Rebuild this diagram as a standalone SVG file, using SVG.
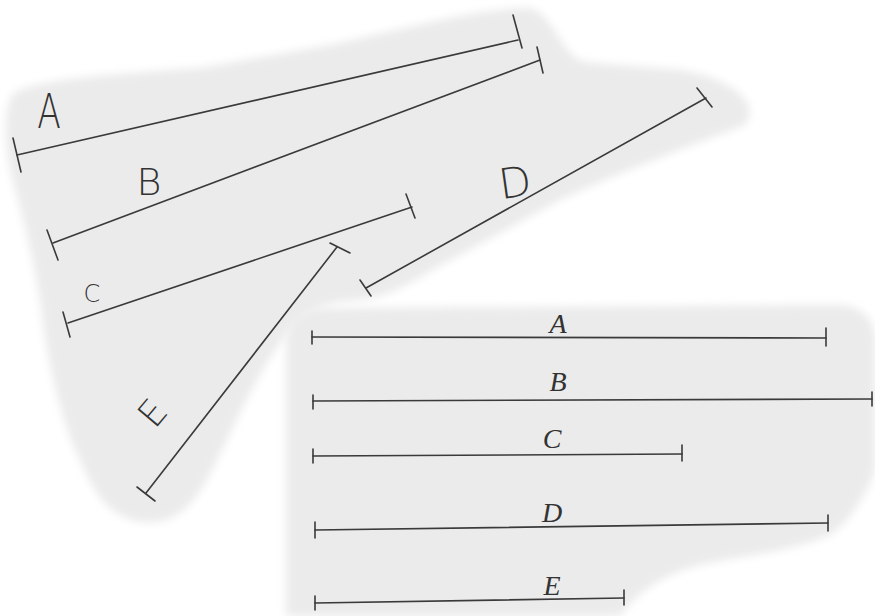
<svg xmlns="http://www.w3.org/2000/svg" width="875" height="616" viewBox="0 0 875 616">
<defs>
<filter id="soft" x="-10%" y="-10%" width="120%" height="120%"><feGaussianBlur stdDeviation="4"/></filter>
</defs>
<style>
.blob{fill:#ebebeb;filter:url(#soft)}
.seg line{stroke:#3a3a3a;stroke-width:1.6;stroke-linecap:round}
.lt{font-family:"DejaVu Sans","Liberation Sans",sans-serif;fill:#333;text-anchor:middle;font-weight:200}
.lb{font-family:"Liberation Serif",serif;font-style:italic;fill:#333;text-anchor:middle;font-size:28px}
</style>
<rect width="875" height="616" fill="#ffffff"/>
<g id="blob-top">
<path class="blob" d="M12,95 C30,80 100,75 200,68 L330,45 C420,25 480,8 530,8 C555,15 560,55 585,62 L680,70 C720,75 765,100 745,125 C700,142 620,172 560,200 L460,255 C420,275 400,295 360,300 C320,302 300,312 282,340 C252,382 228,440 212,470 C192,510 172,525 142,522 C110,518 95,495 80,460 C60,420 45,350 40,300 C30,240 18,200 10,170 C4,140 4,110 12,95 Z"/>
</g>
<g id="blob-bottom">
<path class="blob" d="M286,345 C286,322 298,310 320,308 L840,305 C862,306 875,320 875,340 L875,470 C865,500 845,525 830,535 C790,552 740,556 700,565 C660,575 635,595 620,616 L286,616 Z"/>
</g>
<g id="connectors" class="seg">
<g id="top-A"><line x1="17" y1="155" x2="518" y2="40"/><line x1="13" y1="138" x2="21" y2="172"/><line x1="513" y1="15" x2="522" y2="48"/></g>
<g id="top-B"><line x1="53" y1="243" x2="540" y2="60"/><line x1="47" y1="230" x2="58" y2="260"/><line x1="537" y1="47" x2="543" y2="73"/></g>
<g id="top-C"><line x1="68" y1="323" x2="412" y2="207"/><line x1="63" y1="312" x2="70" y2="337"/><line x1="406" y1="194" x2="415" y2="218"/></g>
<g id="top-D"><line x1="366" y1="288" x2="706" y2="98"/><line x1="360" y1="280" x2="371" y2="296"/><line x1="697" y1="88" x2="712" y2="107"/></g>
<g id="top-E"><line x1="146" y1="493" x2="337" y2="247"/><line x1="137" y1="487" x2="155" y2="501"/><line x1="330" y1="243" x2="350" y2="253"/></g>
<g id="bot-A"><line x1="312" y1="337" x2="826" y2="338"/><line x1="312" y1="331" x2="312" y2="344"/><line x1="826" y1="328" x2="826" y2="346"/></g>
<g id="bot-B"><line x1="313" y1="401" x2="872" y2="399"/><line x1="313" y1="395" x2="313" y2="409"/><line x1="872" y1="392" x2="872" y2="406"/></g>
<g id="bot-C"><line x1="313" y1="456" x2="682" y2="454"/><line x1="313" y1="449" x2="313" y2="463"/><line x1="682" y1="445" x2="682" y2="461"/></g>
<g id="bot-D"><line x1="315" y1="530" x2="828" y2="523"/><line x1="315" y1="522" x2="315" y2="538"/><line x1="828" y1="515" x2="828" y2="531"/></g>
<g id="bot-E"><line x1="315" y1="603" x2="624" y2="598"/><line x1="315" y1="596" x2="315" y2="610"/><line x1="624" y1="590" x2="624" y2="605"/></g>
</g>
<g id="labels-top">
<text class="lt" font-size="48" transform="translate(49,128) scale(0.72,1)">A</text>
<text class="lt" font-size="38" x="149" y="195">B</text>
<text class="lt" font-size="24" x="92" y="302">C</text>
<text class="lt" font-size="42" transform="translate(517,197) rotate(-8)">D</text>
<text class="lt" font-size="36" transform="translate(162,421) rotate(-50)">E</text>
</g>
<g id="labels-bottom">
<text class="lb" x="558" y="333">A</text>
<text class="lb" x="558" y="391" font-size="32">B</text>
<text class="lb" x="552" y="448" font-size="20">C</text>
<text class="lb" x="552" y="522">D</text>
<text class="lb" x="552" y="595">E</text>
</g>
</svg>
